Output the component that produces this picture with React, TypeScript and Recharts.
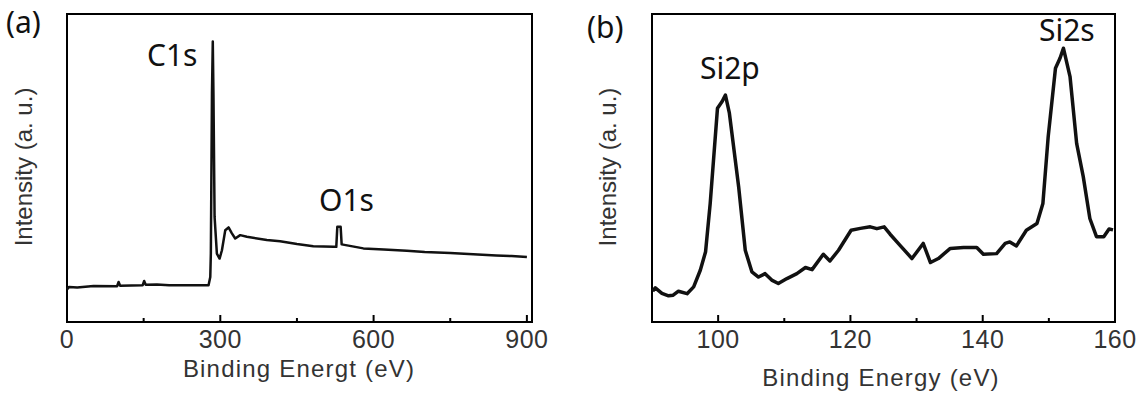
import { LineChart, Line, XAxis, YAxis, ReferenceArea } from 'recharts';

// (a) survey spectrum, binding energy (eV) vs intensity (a.u., 0-100 of frame)
const surveyEnergy = [
  0, 4, 20, 52, 98, 101, 104, 148, 151, 154, 176, 200, 240, 277,
  280.4, 281.5, 283.7, 285.3, 286.6, 288.8, 293.3, 298.6, 303.2, 309.7, 316.2,
  322.7, 329.2, 339, 352, 391, 417, 450, 482, 522, 527, 529, 535.5, 537.5,
  580, 620, 665, 700, 750, 795, 840, 870, 900,
];
const surveyIntensity = [
  10.6, 11.4, 11.2, 11.7, 11.6, 13.0, 11.8, 11.9, 13.3, 12.1, 12.2, 11.9, 11.9, 11.9,
  14.6, 22.2, 74.3, 91.1, 74.3, 34.2, 22.2, 20.6, 23.3, 29.8, 30.7,
  28.8, 27.1, 28.2, 27.7, 26.6, 26.2, 25.3, 24.6, 24.4, 24.4, 30.9, 30.9, 25.2,
  23.9, 23.5, 23.1, 22.7, 22.4, 22.0, 21.6, 21.4, 21.1,
];

// (b) Si 2p / Si 2s region
const siEnergy = [
  90.1, 90.5, 91.5, 92.5, 93.2, 94.0, 95.3, 96.3, 97.3, 98.1, 98.8, 99.9, 100.6,
  101.1, 101.7, 103.1, 104.1, 105.1, 106.1, 107.1, 108.1, 109.1, 110.4, 111.9,
  113.2, 114.2, 115.9, 116.9, 118.2, 120.1, 121.5, 123.0, 124.0, 125.1, 126.0,
  127.5, 129.3, 131.0, 132.1, 133.3, 135.1, 137.1, 139.1, 140.1, 142.1, 143.4,
  144.1, 145.1, 146.6, 148.2, 149.1, 149.9, 151.0, 151.7, 152.2, 153.2, 154.2,
  155.2, 156.2, 157.2, 158.3, 159.1, 159.7,
];
const siIntensity = [
  10.0, 11.1, 9.3, 8.5, 8.7, 10.0, 9.2, 11.4, 16.8, 22.8, 38.5, 69.4, 71.6,
  73.7, 67.8, 43.9, 23.3, 16.3, 14.6, 15.7, 13.6, 12.5, 14.1, 15.7,
  17.7, 17.0, 22.0, 19.8, 23.3, 29.8, 30.4, 30.9, 30.3, 30.9, 28.5,
  24.9, 20.6, 25.5, 19.3, 20.6, 23.9, 24.2, 24.2, 22.0, 22.2, 25.5,
  26.0, 24.7, 29.8, 32.0, 38.5, 60.2, 82.4, 85.7, 88.9, 79.7, 58.0,
  47.2, 33.6, 27.7, 27.7, 30.2, 29.9,
];

const surveyTicks = [0, 150, 300, 450, 600, 750, 900];
const surveyLabels = [0, 300, 600, 900];
const siTicks = [100, 110, 120, 130, 140, 150, 160];
const siLabels = [100, 120, 140, 160];

const surveyData = surveyEnergy.map((e, i) => ({ e, v: surveyIntensity[i] }));
const siData = siEnergy.map((e, i) => ({ e, v: siIntensity[i] }));

const axisFont = '"Liberation Sans", Arial, sans-serif';
const noteFont = '"Noto Sans", "Open Sans", sans-serif';

function AxisTick(props: any) {
  const { x, y, payload, labels } = props;
  const major = labels.includes(payload.value);
  return (
    <g>
      <line x1={x} x2={x} y1={y} y2={y - (major ? 7 : 4)} stroke="#000" strokeWidth={2} />
      {major && (
        <text x={x} y={y + 26} textAnchor="middle" fontSize={25} letterSpacing={0.5}
          fontFamily={axisFont} fill="#333">
          {payload.value}
        </text>
      )}
    </g>
  );
}

export default function App() {
  return (
    <div style={{ position: 'absolute', left: 0, top: 0, width: 1139, height: 393, background: '#fff', overflow: 'hidden' }}>
      <div style={{ position: 'absolute', left: 0, top: 0 }}>
        <LineChart width={560} height={393} data={surveyData} margin={{ top: 14, right: 28, left: 67, bottom: 31 }}>
          <XAxis dataKey="e" type="number" domain={[0, 910]} ticks={surveyTicks} height={40}
            axisLine={false} tickLine={false} tickSize={0} tickMargin={0} interval={0}
            tick={(p: any) => <AxisTick {...p} labels={surveyLabels} />} />
          <YAxis type="number" domain={[0, 100]} hide />
          <ReferenceArea x1={0} x2={910} y1={0} y2={100} fill="none" stroke="#000" strokeWidth={2} ifOverflow="visible" />
          <Line type="linear" dataKey="v" stroke="#111" strokeWidth={2.5} strokeLinejoin="round" dot={false} isAnimationActive={false} />
        </LineChart>
      </div>
      <div style={{ position: 'absolute', left: 560, top: 0 }}>
        <LineChart width={579} height={393} data={siData} margin={{ top: 14, right: 24, left: 92, bottom: 31 }}>
          <XAxis dataKey="e" type="number" domain={[90, 160]} ticks={siTicks} height={40}
            axisLine={false} tickLine={false} tickSize={0} tickMargin={0} interval={0}
            tick={(p: any) => <AxisTick {...p} labels={siLabels} />} />
          <YAxis type="number" domain={[0, 100]} hide />
          <ReferenceArea x1={90} x2={160} y1={0} y2={100} fill="none" stroke="#000" strokeWidth={2} ifOverflow="visible" />
          <Line type="linear" dataKey="v" stroke="#111" strokeWidth={3.5} strokeLinejoin="round" dot={false} isAnimationActive={false} />
        </LineChart>
      </div>
      <svg width={1139} height={393} style={{ position: 'absolute', left: 0, top: 0, pointerEvents: 'none' }}>
        <g fontFamily={noteFont} fill="#111">
          <text x={6} y={33} fontSize={30}>(a)</text>
          <text x={587} y={38} fontSize={30}>(b)</text>
          <text x={147} y={66} fontSize={30}>C1s</text>
          <text x={319} y={211} fontSize={30}>O1s</text>
          <text x={700} y={79} fontSize={30}>Si2p</text>
          <text x={1039} y={41} fontSize={30}>Si2s</text>
        </g>
        <g fontFamily={axisFont} fill="#333" fontSize={24}>
          <text x={32} y={167} textAnchor="middle" transform="rotate(-90 32 167)">Intensity (a. u.)</text>
          <text x={616} y={167} textAnchor="middle" transform="rotate(-90 616 167)">Intensity (a. u.)</text>
          <text x={299} y={377} textAnchor="middle" letterSpacing={1.2}>Binding Energt (eV)</text>
          <text x={881} y={386} textAnchor="middle" letterSpacing={1.2}>Binding Energy (eV)</text>
        </g>
      </svg>
    </div>
  );
}
